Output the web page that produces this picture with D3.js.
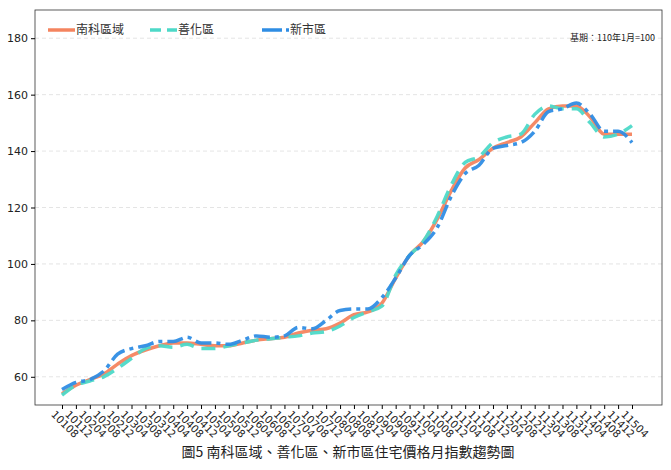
<!DOCTYPE html>
<html><head><meta charset="utf-8">
<script src="https://cdn.jsdelivr.net/npm/d3@7"></script>
<style>body{margin:0;background:#fff;font-family:"Noto Sans CJK TC","Noto Sans",sans-serif;}</style>
</head><body>
<svg id="chart" width="671" height="470"></svg>
<script>
const months = ["10108","10112","10204","10208","10212","10304","10308","10312","10404","10408","10412","10504","10508","10512","10604","10608","10612","10704","10708","10712","10804","10808","10812","10904","10908","10912","11004","11008","11012","11104","11108","11112","11204","11208","11212","11304","11308","11312","11404","11408","11412","11504"];
const nanke = [54,57,59,61,64.5,67.5,69.5,71,72,72,71.5,71,71,72,73,73.5,74,75.5,76.5,77,79,82,83,86,95,103,108,116,126,134,137,141,143,145,150,155,156,156,152,146,146,146];
const shanhua = [53.5,57,58.5,60,63,66.5,70,71,70.5,71.5,70,70,71,72,73,73.5,74,74.5,75.5,76,78,81,83,85,96,103,108,117,128,136,138,143,145,146,153,156,155,155,150,145,146,149];
const xinshi = [55.5,58,59,62,68,70,71,72.5,72.5,74,72,72,71.5,73,74.5,74,74.5,77.5,77,80,83.5,84,84,88,95,103,107,113,124,132,135,141,142,143,147,154,155,157,153,147,147,143];
const yTicks = [60,80,100,120,140,160,180];

const series = [
  {name:"南科區域", values:nanke, color:"#f4845f", dash:null},
  {name:"善化區", values:shanhua, color:"#4dd9c8", dash:"14,8"},
  {name:"新市區", values:xinshi, color:"#2f8de4", dash:"16,5,4,5"}
];

const margin = {left:35, right:9, top:10, bottom:65};
const width = 671, height = 470;
const svg = d3.select("#chart");

const x = d3.scalePoint().domain(months).range([62, 632]);
const y = d3.scaleLinear().domain([50,190]).range([height - margin.bottom, margin.top]);

// grid
svg.append("g").selectAll("line").data(yTicks).join("line")
  .attr("x1", margin.left).attr("x2", width - margin.right)
  .attr("y1", d => y(d)).attr("y2", d => y(d))
  .attr("stroke", "#ddd").attr("stroke-dasharray", "4,3").attr("stroke-width", 0.8);

// lines
const line = d3.line().x((d,i) => x(months[i])).y(d => y(d)).curve(d3.curveMonotoneX);
series.forEach(s => {
  svg.append("path").datum(s.values).attr("d", line)
    .attr("fill","none").attr("stroke", s.color).attr("stroke-width", 3.5)
    .attr("stroke-dasharray", s.dash).attr("opacity", 0.95);
});

// frame
svg.append("rect").attr("x", margin.left).attr("y", margin.top)
  .attr("width", width - margin.left - margin.right).attr("height", height - margin.top - margin.bottom)
  .attr("fill","none").attr("stroke","#333").attr("stroke-width",0.8);

// y axis
const yAxis = d3.axisLeft(y).tickValues(yTicks).tickSize(4).tickPadding(3);
svg.append("g").attr("transform", `translate(${margin.left},0)`).call(yAxis)
  .call(g => g.select(".domain").remove())
  .call(g => g.selectAll("text").attr("font-size", 11).attr("fill","#222").attr("font-family","DejaVu Sans"));

// x axis
const xAxis = d3.axisBottom(x).tickSize(4).tickPadding(3);
svg.append("g").attr("transform", `translate(0,${height - margin.bottom})`).call(xAxis)
  .call(g => g.select(".domain").remove())
  .call(g => g.selectAll("text").attr("font-size", 10.5).attr("fill","#222").attr("font-family","DejaVu Sans")
    .attr("text-anchor","start").attr("dy", null)
    .attr("transform","translate(-7,5) rotate(45)"));

// legend
const lg = svg.append("g").attr("transform","translate(48,30)");
const lx = [0, 102, 214];
series.forEach((s,i) => {
  lg.append("line").attr("x1", lx[i]).attr("x2", lx[i]+27).attr("y1",0).attr("y2",0)
    .attr("stroke", s.color).attr("stroke-width",3.5).attr("stroke-dasharray", s.dash ? (i===1 ? "11,6" : "20,4,4,4") : null);
  lg.append("text").attr("x", lx[i]+28).attr("y", 4).attr("font-size", 12).attr("fill","#333").text(s.name);
});

svg.append("text").attr("x", 655).attr("y", 41).attr("text-anchor","end").attr("font-size", 9).attr("fill","#222").text("基期：110年1月=100");

svg.append("text").attr("x", 348).attr("y", 457).attr("text-anchor","middle").attr("font-size", 14).attr("fill","#222")
  .text("圖5  南科區域、善化區、新市區住宅價格月指數趨勢圖");
</script>
</body></html>
